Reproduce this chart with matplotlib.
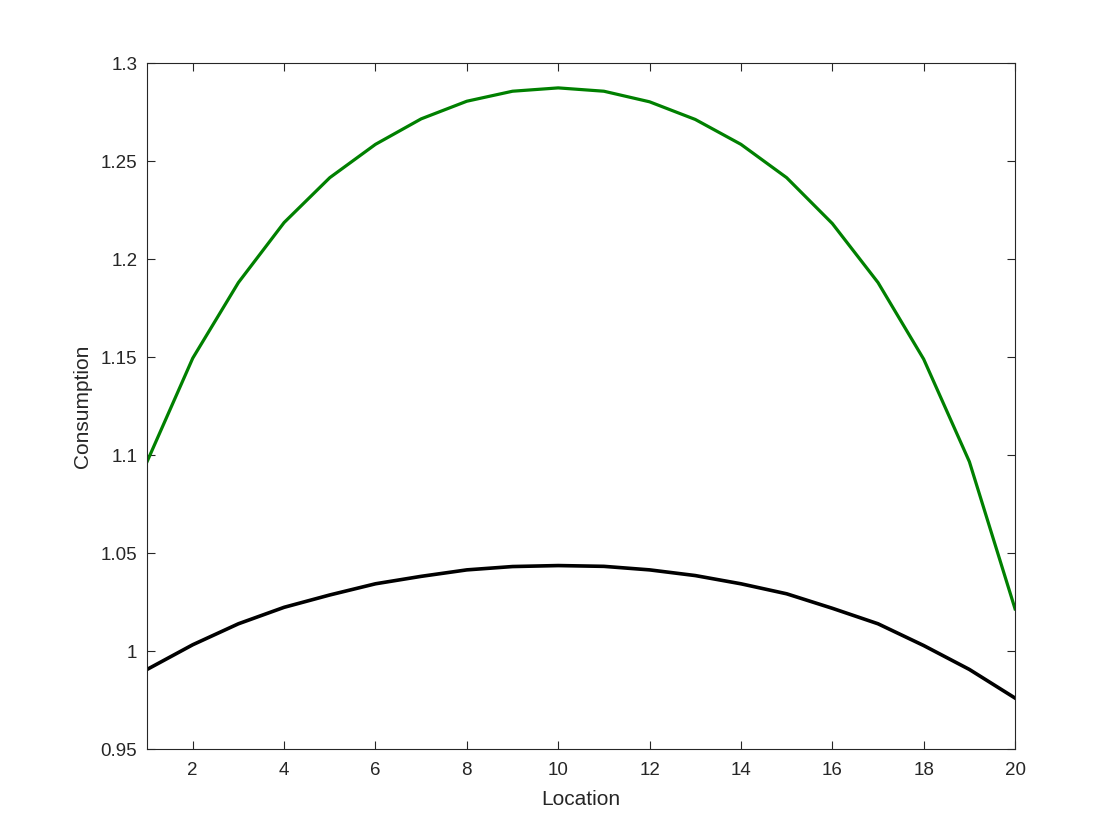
import matplotlib.pyplot as plt
import numpy as np
from matplotlib.ticker import FuncFormatter

# valores
location = np.arange(1, 21)
consumo_verde = [1.0966, 1.1494, 1.1880, 1.2186, 1.2415, 1.2585, 1.2715, 1.2805, 1.2856, 1.2873,
                 1.2856, 1.2802, 1.2712, 1.2585, 1.2415, 1.2181, 1.1880, 1.1489, 1.0966, 1.0215]
consumo_preto = [0.9906, 1.0032, 1.0139, 1.0223, 1.0286, 1.0343, 1.0381, 1.0414, 1.0431, 1.0436,
                 1.0432, 1.0414, 1.0385, 1.0343, 1.0292, 1.0218, 1.0139, 1.0028, 0.9906, 0.9760]
x_ticks = list(range(2, 21, 2))
y_ticks = [0.95, 1.0, 1.05, 1.1, 1.15, 1.2, 1.25, 1.3]

plt.rcParams['font.family'] = ['Liberation Sans', 'DejaVu Sans']
cor_eixo = '#262626'

fig = plt.figure(figsize=(11.2, 8.4), dpi=100)
ax = fig.add_axes([0.1313, 0.1083, 0.775, 0.8167])

ax.plot(location, consumo_verde, color='#008000', linewidth=2.3)
ax.plot(location, consumo_preto, color='black', linewidth=2.6)

ax.set_xlim(1, 20)
ax.set_ylim(0.95, 1.3)
ax.set_xticks(x_ticks)
ax.set_yticks(y_ticks)
ax.yaxis.set_major_formatter(FuncFormatter(lambda v, p: f'{v:g}'))

ax.tick_params(direction='in', length=6, width=0.8, colors=cor_eixo, labelsize=13.5,
               top=True, right=True)
ax.tick_params(axis='x', pad=9)
ax.tick_params(axis='y', pad=7)
for s in ax.spines.values():
    s.set_color(cor_eixo)
    s.set_linewidth(0.8)

ax.set_xlabel('Location', fontsize=15, color=cor_eixo, labelpad=8)
ax.set_ylabel('Consumption', fontsize=15, color=cor_eixo, labelpad=6)

fig.savefig('out.png', dpi=100)
